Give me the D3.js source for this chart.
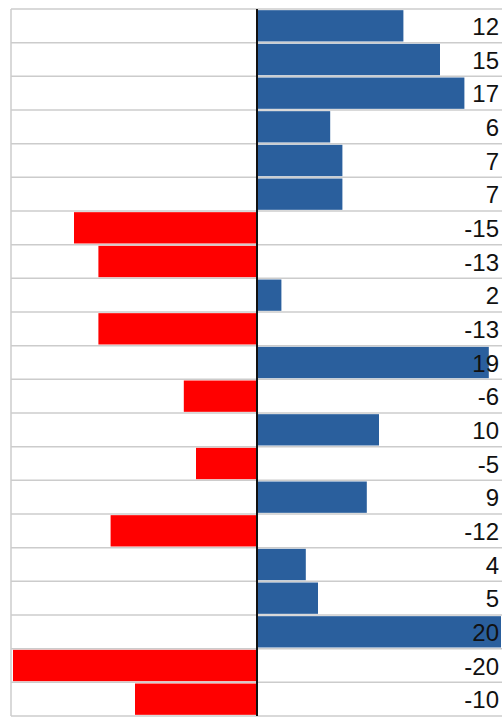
<!DOCTYPE html>
<html>
<head>
<meta charset="utf-8">
<script src="https://cdn.jsdelivr.net/npm/d3@7"></script>
<style>
  body { margin: 0; background: #fff; }
  text { font-family: "Liberation Sans", Arial, sans-serif; }
</style>
</head>
<body>
<script>
// rows, top to bottom
var rows = ["r1","r2","r3","r4","r5","r6","r7","r8","r9","r10","r11","r12","r13","r14","r15","r16","r17","r18","r19","r20","r21"];
var values = [12, 15, 17, 6, 7, 7, -15, -13, 2, -13, 19, -6, 10, -5, 9, -12, 4, 5, 20, -20, -10];
var labels = ["12","15","17","6","7","7","-15","-13","2","-13","19","-6","10","-5","9","-12","4","5","20","-20","-10"];

var w = 502,
	h = 718,
	gridLeft = 11,
	gridTop = 9,
	gridBottom = 716;

var svg = d3.select("body")
	.append("svg")
	.attr("width", w)
	.attr("height", h);

var x = d3.scaleLinear()
	.domain([-20, 20])
	.range([13, 501]);

var y = d3.scaleBand()
	.domain(rows)
	.range([gridTop, gridBottom])
	.paddingInner(0.07)
	.paddingOuter(0.035);

var step = y.step();

// row grid lines
var lines = d3.range(rows.length + 1).map(function(i){ return gridTop + i * step; });
svg.selectAll("line.grid")
	.data(lines)
	.enter()
	.append("line")
	.attr("class", "grid")
	.attr("x1", gridLeft)
	.attr("x2", w)
	.attr("y1", d => d)
	.attr("y2", d => d)
	.attr("stroke", "#cccccc")
	.attr("stroke-width", 1.5);

// left border
svg.append("line")
	.attr("x1", gridLeft).attr("x2", gridLeft)
	.attr("y1", gridTop).attr("y2", gridBottom)
	.attr("stroke", "#cccccc")
	.attr("stroke-width", 1.5);

// bars
svg.selectAll("rect.bar")
	.data(values)
	.enter()
	.append("rect")
	.attr("class", "bar")
	.attr("x", d => x(Math.min(0, d)))
	.attr("y", (d, i) => y(rows[i]))
	.attr("width", d => Math.abs(x(d) - x(0)))
	.attr("height", y.bandwidth())
	.attr("fill", d => d < 0 ? "#ff0000" : "#2a5f9d");

// zero axis
svg.append("line")
	.attr("x1", x(0)).attr("x2", x(0))
	.attr("y1", gridTop).attr("y2", gridBottom)
	.attr("stroke", "#111")
	.attr("stroke-width", 2);

// value labels
svg.selectAll("text.val")
	.data(labels)
	.enter()
	.append("text")
	.attr("class", "val")
	.attr("x", 499)
	.attr("y", (d, i) => y(rows[i]) + y.bandwidth() / 2 + 9)
	.attr("text-anchor", "end")
	.attr("font-size", 24)
	.attr("fill", "#111")
	.text(d => d);
</script>
</body>
</html>
